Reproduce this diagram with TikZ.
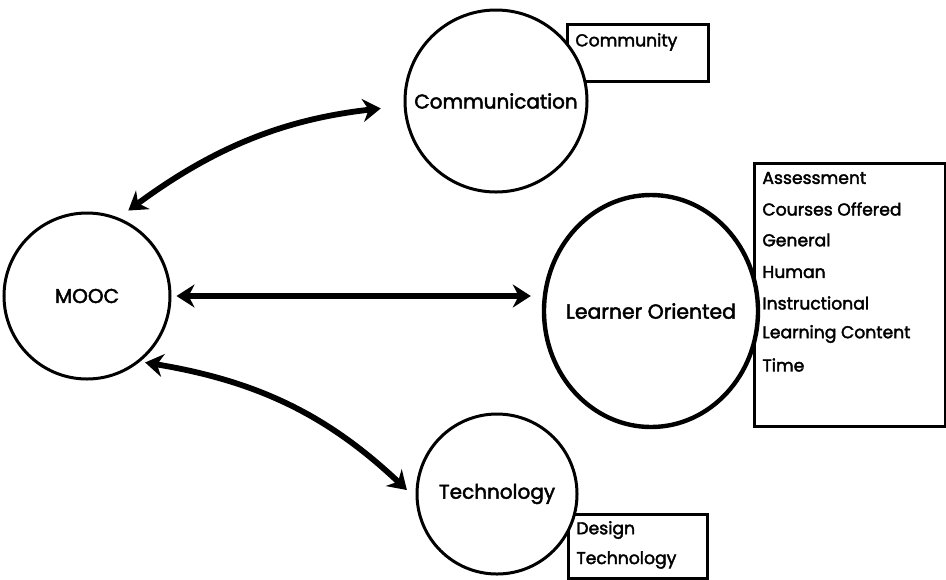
\documentclass[tikz,border=0pt]{standalone}
\usepackage{fontspec}
\setmainfont{Poppins}[FakeBold=2.2]
\usetikzlibrary{arrows.meta,shapes.geometric}

\tikzset{
  topic/.style={circle, draw, line width=1.5pt, fill=white, inner sep=0pt,
    font=\fontsize{10}{12}\selectfont},
  tagbox/.style={rectangle, draw, line width=1.5pt, anchor=north west, inner sep=0pt},
  tag/.style={anchor=west, inner sep=0pt, font=\fontsize{8.6}{10}\selectfont},
  link/.style={line width=2.9pt, {Stealth[length=9pt,width=11.5pt]}-{Stealth[length=9pt,width=11.5pt]}},
}

\begin{document}
\begin{tikzpicture}[x=0.5pt, y=-0.5pt]
  \useasboundingbox (0,0) rectangle (946,579);

  % boxes with the sub topics
  \node[tagbox, minimum width=70.5pt, minimum height=28.5pt] (commbox) at (566,23) {};
  \node[tagbox, minimum width=95.5pt, minimum height=131.5pt] (learnbox) at (753,162) {};
  \node[tagbox, minimum width=69.5pt, minimum height=32pt] (techbox) at (567,513) {};

  % main topics
  \node[topic, minimum size=83pt] (mooc) at (87,296) {MOOC};
  \node[topic, minimum size=91pt] (comm) at (496,101) {Communication};
  \node[topic, ellipse, minimum width=107pt, minimum height=116pt, line width=2.2pt,
    label={[font=\fontsize{10.2}{12}\selectfont]center:Learner Oriented}] (learner) at (651,311) {};
  \node[topic, minimum size=80pt] (tech) at (497,494) {Technology};

  % arrows
  \draw[link, shorten <=6pt, shorten >=11.5pt] (mooc.68) to[bend left=15] (comm.183);
  \draw[link, shorten <=2.5pt, shorten >=5.5pt] (mooc.east) -- (mooc.east -| learner.west);
  \draw[link, shorten <=2.5pt, shorten >=6pt] (mooc.-51) to[bend left=17] (tech.183);

  % sub topics
  \node[tag] (community) at ([shift={(9,19)}]commbox.north west) {Community};

  \node[tag] (assess) at ([shift={(9,16)}]learnbox.north west) {Assessment};
  \node[tag] (courses) at ([shift={(9,47)}]learnbox.north west) {Courses Offered};
  \node[tag] (general) at ([shift={(9,78)}]learnbox.north west) {General};
  \node[tag] (human) at ([shift={(9,110)}]learnbox.north west) {Human};
  \node[tag] (instruct) at ([shift={(9,141)}]learnbox.north west) {Instructional};
  \node[tag] (content) at ([shift={(9,172)}]learnbox.north west) {Learning Content};
  \node[tag] (time) at ([shift={(9,203)}]learnbox.north west) {Time};

  \node[tag] (design) at ([shift={(9,17)}]techbox.north west) {Design};
  \node[tag] (techno) at ([shift={(9,47)}]techbox.north west) {Technology};
\end{tikzpicture}
\end{document}
